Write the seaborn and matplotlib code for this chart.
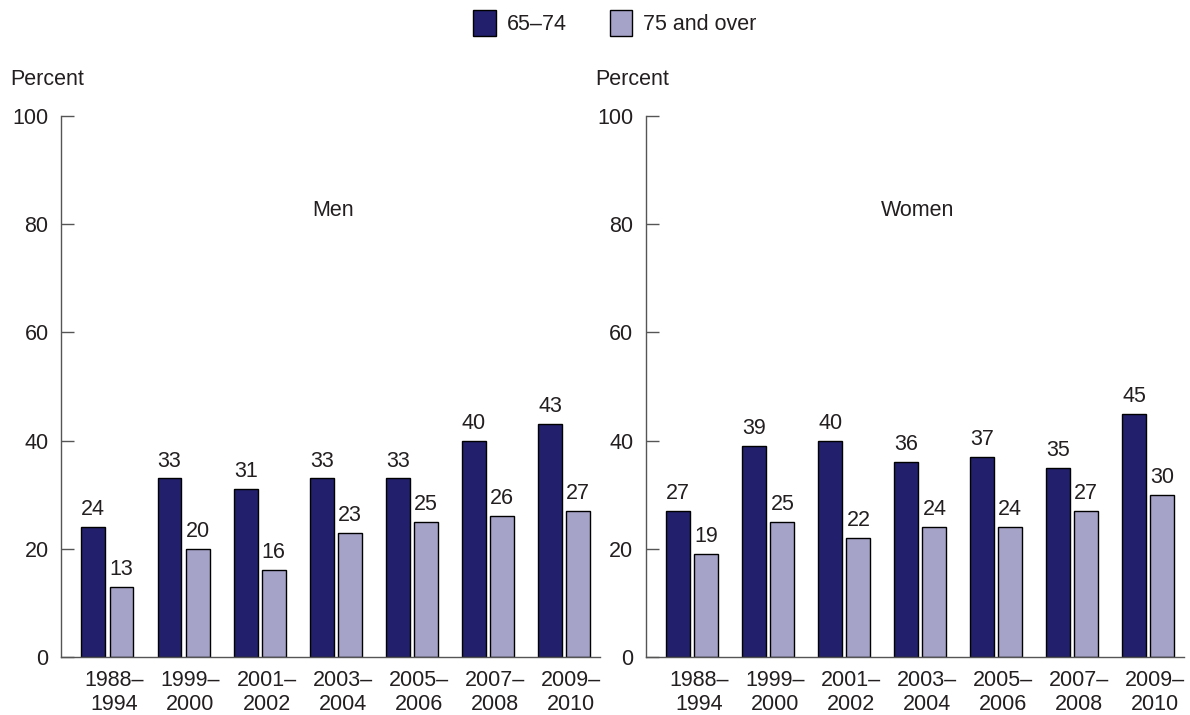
import matplotlib
matplotlib.use("Agg")
import matplotlib.pyplot as plt
from matplotlib.patches import Patch
from matplotlib.transforms import ScaledTranslation
import seaborn as sns
import pandas as pd

# Survey periods and percentages by age group
periods = ["1988–\n1994", "1999–\n2000", "2001–\n2002", "2003–\n2004",
           "2005–\n2006", "2007–\n2008", "2009–\n2010"]
age_groups = ["65–74", "75 and over"]
men_65_74 = [24, 33, 31, 33, 33, 40, 43]
men_75_over = [13, 20, 16, 23, 25, 26, 27]
women_65_74 = [27, 39, 40, 36, 37, 35, 45]
women_75_over = [19, 25, 22, 24, 24, 27, 30]
y_ticks = [0, 20, 40, 60, 80, 100]

dark = "#221f6c"
light = "#a6a3c9"
text_color = "#231f20"
axis_color = "#555555"
fs = 15.5

sns.set_theme(style="white")
plt.rcParams["font.family"] = ["Liberation Sans", "DejaVu Sans"]
plt.rcParams["font.size"] = fs
plt.rcParams["text.color"] = text_color

def long_frame(a, b):
    return pd.DataFrame({
        "period": periods * 2,
        "age": [age_groups[0]] * len(periods) + [age_groups[1]] * len(periods),
        "value": list(a) + list(b),
    })

fig = plt.figure(figsize=(11.9, 7.15), dpi=100)
bottom = 58 / 715
height = (657 - 116) / 715
ax_men = fig.add_axes([61 / 1190, bottom, (600 - 61) / 1190, height])
ax_women = fig.add_axes([646 / 1190, bottom, (1184 - 646) / 1190, height])

panels = [(ax_men, "Men", men_65_74, men_75_over),
          (ax_women, "Women", women_65_74, women_75_over)]

for ax, title, a, b in panels:
    df = long_frame(a, b)
    sns.barplot(data=df, x="period", y="value", hue="age",
                hue_order=age_groups, order=periods,
                palette=[dark, light], saturation=1, edgecolor="black",
                linewidth=1.0, width=0.74, gap=0.15, legend=False, ax=ax)
    for cont in ax.containers:
        ax.bar_label(cont, fmt="%d", padding=5, fontsize=fs,
                     color=text_color)
    ax.set_ylim(0, 100)
    ax.set_xlim(-0.61, 6.47)
    ax.set_yticks(y_ticks)
    ax.set_xlabel("")
    ax.set_ylabel("")
    for side in ["top", "right"]:
        ax.spines[side].set_visible(False)
    for side in ["left", "bottom"]:
        ax.spines[side].set_color(axis_color)
        ax.spines[side].set_linewidth(1.0)
    ax.tick_params(axis="y", direction="in", length=9, width=1.0,
                   color=axis_color, pad=9, labelsize=fs,
                   labelcolor=text_color, left=True)
    ax.tick_params(axis="x", length=0, pad=9, labelsize=fs,
                   labelcolor=text_color)
    shift = ScaledTranslation(5 / 72, 0, fig.dpi_scale_trans)
    for lbl in ax.get_xticklabels():
        lbl.set_linespacing(1.25)
        lbl.set_transform(lbl.get_transform() + shift)
    ax.text(0.505, 82.5, title, transform=ax.get_yaxis_transform(),
            ha="center", va="center", fontsize=fs, color=text_color)
    ax.text(-0.095, 104.8, "Percent", transform=ax.get_yaxis_transform(),
            ha="left", va="bottom", fontsize=fs, color=text_color,
            clip_on=False)

handles = [Patch(facecolor=dark, edgecolor="black", linewidth=1.0),
           Patch(facecolor=light, edgecolor="black", linewidth=1.0)]
fig.legend(handles, age_groups, loc="center", bbox_to_anchor=(615 / 1190, 1 - 23 / 715),
           ncol=2, frameon=False, handlelength=1.05, handleheight=1.45,
           handletextpad=0.5, columnspacing=2.0, fontsize=fs)

fig.savefig("out.png", dpi=100, facecolor="white")
